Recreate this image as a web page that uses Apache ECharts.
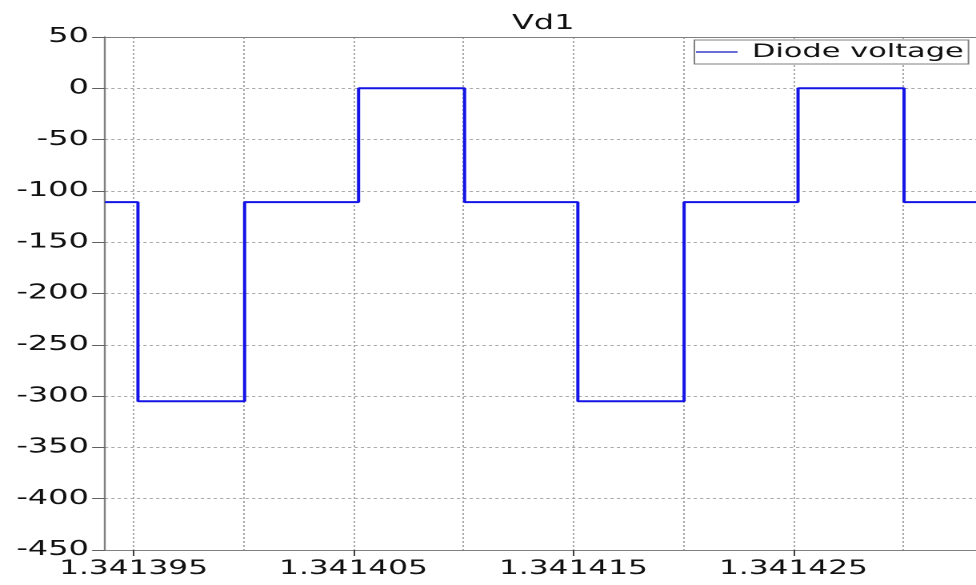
<!DOCTYPE html>
<html>
<head>
<meta charset="utf-8">
<title>Vd1</title>
<script src="https://cdn.jsdelivr.net/npm/echarts@6/dist/echarts.min.js"></script>
<style>
  html, body { margin: 0; padding: 0; background: #ffffff; overflow: hidden; }
  /* the plot is laid out narrow and widened horizontally, giving the wide lettering of the scope export */
  #chart { width: 610px; height: 585px; transform: scaleX(1.6); transform-origin: 0 0; }
</style>
</head>
<body>
<div id="chart"></div>
<script>
// Switching instants of the diode voltage (seconds) and the level held from each instant on (volts)
const switchTimes = [1.3413937, 1.3413952, 1.34140005, 1.34140523, 1.34141005,
                     1.3414152, 1.34142003, 1.34142521, 1.34143003, 1.3414333];
const voltageLevels = [-111, -305, -111, 0, -111, -305, -111, 0, -111, -111];

// Axis settings
const timeMin = 1.3413937;
const timeMax = 1.3414333;
const timeLabelValues = [1.341395, 1.341405, 1.341415, 1.341425];
const voltMin = -450;
const voltMax = 50;
const voltStep = 50;

const seriesName = 'Diode voltage';
const chartTitle = 'Vd1';

const points = switchTimes.map((t, i) => [t, voltageLevels[i]]);

const FONT = 'DejaVu Sans, Verdana, sans-serif';
const AXIS_GREY = '#808080';
const GRID_GREY = '#a9a9a9';
const TEXT = '#111111';
const WAVE_BLUE = '#1414e6';

const chart = echarts.init(document.getElementById('chart'), null, { renderer: 'canvas', devicePixelRatio: 2 });

chart.setOption({
  animation: false,
  backgroundColor: '#ffffff',
  title: {
    text: chartTitle,
    left: 320,
    top: 14,
    padding: 0,
    textStyle: { fontFamily: FONT, fontSize: 20, fontWeight: 'normal', color: TEXT }
  },
  legend: {
    data: [{ name: seriesName, icon: 'rect' }],
    left: 434,
    top: 40,
    padding: [2, 3, 2, 1],
    itemWidth: 26,
    itemHeight: 1.5,
    backgroundColor: '#ffffff',
    borderColor: AXIS_GREY,
    borderWidth: 1,
    borderRadius: 0,
    itemStyle: { color: '#3a3ac8' },
    textStyle: { fontFamily: FONT, fontSize: 19, color: TEXT, lineHeight: 20, padding: [0, 0, 0, 4] }
  },
  grid: {
    left: 65.6,
    right: 0,
    top: 37,
    bottom: 35,
    containLabel: false,
    outerBoundsMode: 'none'
  },
  xAxis: [
    {
      // time axis: grid lines every 5 µs, labels every 10 µs
      type: 'value',
      min: timeMin,
      max: timeMax,
      splitNumber: 8,
      minInterval: 5e-6,
      maxInterval: 5e-6,
      axisLine: { show: true, onZero: false, lineStyle: { color: AXIS_GREY, width: 1 } },
      axisTick: { show: false },
      axisLabel: {
        show: true,
        margin: 9,
        showMinLabel: false,
        showMaxLabel: false,
        fontFamily: FONT,
        fontSize: 19.5,
        color: TEXT,
        formatter: function (v) {
          const us = Math.round(v * 1e6);
          return (us % 10 === 5) ? v.toFixed(6) : '';
        }
      },
      splitLine: { show: true, lineStyle: { color: GRID_GREY, width: 1, type: [2, 2] } }
    },
    {
      // upper frame edge of the plot
      type: 'value',
      position: 'top',
      min: timeMin,
      max: timeMax,
      axisLine: { show: true, onZero: false, lineStyle: { color: AXIS_GREY, width: 1 } },
      axisTick: { show: false },
      axisLabel: { show: false },
      splitLine: { show: false }
    },
    {
      // tick marks under the labelled instants only
      type: 'value',
      position: 'bottom',
      min: timeMin,
      max: timeMax,
      axisLine: { show: false, onZero: false },
      axisTick: {
        show: true,
        inside: false,
        length: 6,
        customValues: timeLabelValues,
        lineStyle: { color: '#404040', width: 1 }
      },
      axisLabel: { show: false },
      splitLine: { show: false }
    }
  ],
  yAxis: {
    type: 'value',
    min: voltMin,
    max: voltMax,
    interval: voltStep,
    axisLine: { show: true, onZero: false, lineStyle: { color: AXIS_GREY, width: 1.2 } },
    axisTick: { show: true, inside: false, length: 8, lineStyle: { color: '#606060', width: 1 } },
    axisLabel: { margin: 10, fontFamily: FONT, fontSize: 20, color: TEXT },
    splitLine: { show: true, lineStyle: { color: GRID_GREY, width: 1, type: [2, 2] } }
  },
  series: [
    {
      name: seriesName,
      type: 'line',
      xAxisIndex: 0,
      step: 'end',
      data: points,
      showSymbol: false,
      symbol: 'none',
      clip: true,
      lineStyle: { color: WAVE_BLUE, width: 2 },
      itemStyle: { color: WAVE_BLUE }
    }
  ]
});
</script>
</body>
</html>
